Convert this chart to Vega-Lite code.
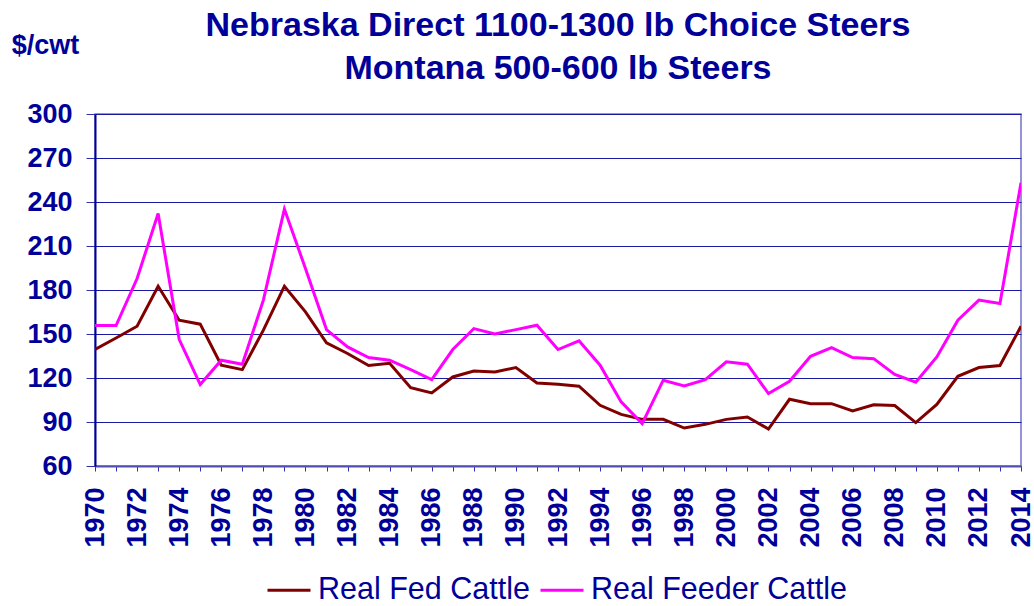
{
  "$schema": "https://vega.github.io/schema/vega-lite/v6.json",
  "width": 926,
  "height": 352,
  "autosize": {"type": "none"},
  "padding": {"left": 95, "top": 114, "right": 13, "bottom": 140},
  "background": "white",
  "config": {"font": "Liberation Sans", "view": {"stroke": "#7070c8", "strokeWidth": 1.5}},
  "title": {
    "text": ["Nebraska Direct 1100-1300 lb Choice Steers", "Montana 500-600 lb Steers"],
    "fontSize": 34,
    "fontWeight": "bold",
    "color": "#000099",
    "lineHeight": 43,
    "anchor": "middle",
    "offset": -55,
    "font": "Liberation Sans"
  },
  "data": {
    "values": [
      {"year": 1970, "series": "Real Fed Cattle", "value": 139.4},
      {"year": 1971, "series": "Real Fed Cattle", "value": 147.3},
      {"year": 1972, "series": "Real Fed Cattle", "value": 155.3},
      {"year": 1973, "series": "Real Fed Cattle", "value": 182.6},
      {"year": 1974, "series": "Real Fed Cattle", "value": 159.4},
      {"year": 1975, "series": "Real Fed Cattle", "value": 156.7},
      {"year": 1976, "series": "Real Fed Cattle", "value": 128.7},
      {"year": 1977, "series": "Real Fed Cattle", "value": 125.7},
      {"year": 1978, "series": "Real Fed Cattle", "value": 152.6},
      {"year": 1979, "series": "Real Fed Cattle", "value": 182.6},
      {"year": 1980, "series": "Real Fed Cattle", "value": 165.1},
      {"year": 1981, "series": "Real Fed Cattle", "value": 143.9},
      {"year": 1982, "series": "Real Fed Cattle", "value": 136.7},
      {"year": 1983, "series": "Real Fed Cattle", "value": 128.5},
      {"year": 1984, "series": "Real Fed Cattle", "value": 130.0},
      {"year": 1985, "series": "Real Fed Cattle", "value": 113.4},
      {"year": 1986, "series": "Real Fed Cattle", "value": 109.8},
      {"year": 1987, "series": "Real Fed Cattle", "value": 120.7},
      {"year": 1988, "series": "Real Fed Cattle", "value": 124.8},
      {"year": 1989, "series": "Real Fed Cattle", "value": 124.1},
      {"year": 1990, "series": "Real Fed Cattle", "value": 127.1},
      {"year": 1991, "series": "Real Fed Cattle", "value": 116.6},
      {"year": 1992, "series": "Real Fed Cattle", "value": 115.7},
      {"year": 1993, "series": "Real Fed Cattle", "value": 114.4},
      {"year": 1994, "series": "Real Fed Cattle", "value": 101.4},
      {"year": 1995, "series": "Real Fed Cattle", "value": 95.2},
      {"year": 1996, "series": "Real Fed Cattle", "value": 91.8},
      {"year": 1997, "series": "Real Fed Cattle", "value": 91.8},
      {"year": 1998, "series": "Real Fed Cattle", "value": 85.9},
      {"year": 1999, "series": "Real Fed Cattle", "value": 88.4},
      {"year": 2000, "series": "Real Fed Cattle", "value": 91.8},
      {"year": 2001, "series": "Real Fed Cattle", "value": 93.4},
      {"year": 2002, "series": "Real Fed Cattle", "value": 85.2},
      {"year": 2003, "series": "Real Fed Cattle", "value": 105.5},
      {"year": 2004, "series": "Real Fed Cattle", "value": 102.5},
      {"year": 2005, "series": "Real Fed Cattle", "value": 102.5},
      {"year": 2006, "series": "Real Fed Cattle", "value": 97.5},
      {"year": 2007, "series": "Real Fed Cattle", "value": 101.8},
      {"year": 2008, "series": "Real Fed Cattle", "value": 101.2},
      {"year": 2009, "series": "Real Fed Cattle", "value": 89.6},
      {"year": 2010, "series": "Real Fed Cattle", "value": 102.0},
      {"year": 2011, "series": "Real Fed Cattle", "value": 121.2},
      {"year": 2012, "series": "Real Fed Cattle", "value": 127.1},
      {"year": 2013, "series": "Real Fed Cattle", "value": 128.5},
      {"year": 2014, "series": "Real Fed Cattle", "value": 155.3},
      {"year": 1970, "series": "Real Feeder Cattle", "value": 155.8},
      {"year": 1971, "series": "Real Feeder Cattle", "value": 155.8},
      {"year": 1972, "series": "Real Feeder Cattle", "value": 187.8},
      {"year": 1973, "series": "Real Feeder Cattle", "value": 232.2},
      {"year": 1974, "series": "Real Feeder Cattle", "value": 146.4},
      {"year": 1975, "series": "Real Feeder Cattle", "value": 115.5},
      {"year": 1976, "series": "Real Feeder Cattle", "value": 132.1},
      {"year": 1977, "series": "Real Feeder Cattle", "value": 129.4},
      {"year": 1978, "series": "Real Feeder Cattle", "value": 173.1},
      {"year": 1979, "series": "Real Feeder Cattle", "value": 235.2},
      {"year": 1980, "series": "Real Feeder Cattle", "value": 194.7},
      {"year": 1981, "series": "Real Feeder Cattle", "value": 153.0},
      {"year": 1982, "series": "Real Feeder Cattle", "value": 141.2},
      {"year": 1983, "series": "Real Feeder Cattle", "value": 133.9},
      {"year": 1984, "series": "Real Feeder Cattle", "value": 132.1},
      {"year": 1985, "series": "Real Feeder Cattle", "value": 125.7},
      {"year": 1986, "series": "Real Feeder Cattle", "value": 118.9},
      {"year": 1987, "series": "Real Feeder Cattle", "value": 139.4},
      {"year": 1988, "series": "Real Feeder Cattle", "value": 153.7},
      {"year": 1989, "series": "Real Feeder Cattle", "value": 150.0},
      {"year": 1990, "series": "Real Feeder Cattle", "value": 153.0},
      {"year": 1991, "series": "Real Feeder Cattle", "value": 156.0},
      {"year": 1992, "series": "Real Feeder Cattle", "value": 139.4},
      {"year": 1993, "series": "Real Feeder Cattle", "value": 145.3},
      {"year": 1994, "series": "Real Feeder Cattle", "value": 128.7},
      {"year": 1995, "series": "Real Feeder Cattle", "value": 103.7},
      {"year": 1996, "series": "Real Feeder Cattle", "value": 88.9},
      {"year": 1997, "series": "Real Feeder Cattle", "value": 118.5},
      {"year": 1998, "series": "Real Feeder Cattle", "value": 114.6},
      {"year": 1999, "series": "Real Feeder Cattle", "value": 118.9},
      {"year": 2000, "series": "Real Feeder Cattle", "value": 131.0},
      {"year": 2001, "series": "Real Feeder Cattle", "value": 129.4},
      {"year": 2002, "series": "Real Feeder Cattle", "value": 109.4},
      {"year": 2003, "series": "Real Feeder Cattle", "value": 117.8},
      {"year": 2004, "series": "Real Feeder Cattle", "value": 134.8},
      {"year": 2005, "series": "Real Feeder Cattle", "value": 140.7},
      {"year": 2006, "series": "Real Feeder Cattle", "value": 133.9},
      {"year": 2007, "series": "Real Feeder Cattle", "value": 133.2},
      {"year": 2008, "series": "Real Feeder Cattle", "value": 122.5},
      {"year": 2009, "series": "Real Feeder Cattle", "value": 117.1},
      {"year": 2010, "series": "Real Feeder Cattle", "value": 134.4},
      {"year": 2011, "series": "Real Feeder Cattle", "value": 159.4},
      {"year": 2012, "series": "Real Feeder Cattle", "value": 173.1},
      {"year": 2013, "series": "Real Feeder Cattle", "value": 170.8},
      {"year": 2014, "series": "Real Feeder Cattle", "value": 253.1}
    ]
  },
  "mark": {"type": "line", "strokeWidth": 3, "clip": true},
  "encoding": {
    "x": {
      "field": "year",
      "type": "quantitative",
      "scale": {"domain": [1970, 2014], "nice": false, "zero": false},
      "axis": {
        "values": [1970,1971,1972,1973,1974,1975,1976,1977,1978,1979,1980,1981,1982,1983,1984,1985,1986,1987,1988,1989,1990,1991,1992,1993,1994,1995,1996,1997,1998,1999,2000,2001,2002,2003,2004,2005,2006,2007,2008,2009,2010,2011,2012,2013,2014],
        "format": "d",
        "labelExpr": "datum.value % 2 === 0 ? datum.label : ''",
        "labelAngle": -90,
        "labelFontSize": 27,
        "labelFontWeight": "bold",
        "labelColor": "#000099",
        "labelPadding": 16,
        "labelFlush": false,
        "labelOverlap": false,
        "labelBound": false,
        "tickSize": 5,
        "tickColor": "#3030a8",
        "domainColor": "#5050b8",
        "domainWidth": 2,
        "grid": false,
        "title": null
      }
    },
    "y": {
      "field": "value",
      "type": "quantitative",
      "scale": {"domain": [60, 300], "nice": false, "zero": false},
      "axis": {
        "values": [60, 90, 120, 150, 180, 210, 240, 270, 300],
        "labelFontSize": 27,
        "labelFontWeight": "bold",
        "labelColor": "#000099",
        "labelFlush": false,
        "labelOverlap": false,
        "tickSize": 9,
        "labelPadding": 14,
        "tickColor": "#3030a8",
        "domainColor": "#000099",
        "domainWidth": 2,
        "gridColor": "#1a1aa0",
        "gridWidth": 1,
        "gridOpacity": 1,
        "title": "$/cwt",
        "titleAngle": 0,
        "titleX": -50,
        "titleY": -61,
        "titleAlign": "center",
        "titleBaseline": "alphabetic",
        "titleFontSize": 27,
        "titleFontWeight": "bold",
        "titleColor": "#000099"
      }
    },
    "color": {
      "field": "series",
      "type": "nominal",
      "scale": {"domain": ["Real Fed Cattle", "Real Feeder Cattle"], "range": ["#800000", "#ff00ff"]},
      "legend": {
        "title": null,
        "orient": "none",
        "legendX": 171,
        "legendY": 453,
        "direction": "horizontal",
        "symbolType": "stroke",
        "symbolSize": 1849,
        "symbolStrokeWidth": 3,
        "labelFontSize": 30.5,
        "labelColor": "#000099",
        "labelOffset": 6,
        "columnPadding": 4,
        "labelLimit": 400
      }
    }
  }
}
